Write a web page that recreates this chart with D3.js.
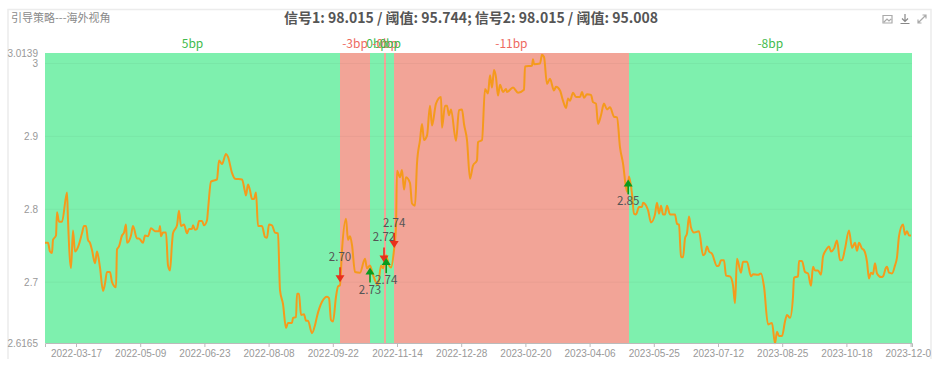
<!DOCTYPE html>
<html>
<head>
<meta charset="utf-8">
<script src="https://cdn.jsdelivr.net/npm/d3@7"></script>
<style>
html,body{margin:0;padding:0;background:#fff;overflow:hidden;}
svg{display:block;font-family:"Noto Sans CJK SC","Noto Sans",sans-serif;}
</style>
</head>
<body>
<div id="chart"></div>
<script>
var titleText = "信号1: 98.015 / 阈值: 95.744; 信号2: 98.015 / 阈值: 95.008";
var subTitle = "引导策略---海外视角";

// x is the trading day position along the category axis
var tickIdx = [15.5,47.6,79.7,111.8,143.9,176,208.1,240.2,272.3,304.4,336.5,368.6,400.7,432.8];
var tickDates = ["2022-03-17","2022-05-09","2022-06-23","2022-08-08","2022-09-22","2022-11-14","2022-12-28","2023-02-20","2023-04-06","2023-05-25","2023-07-12","2023-08-25","2023-10-18","2023-12-01"];
var yTicks = [2.6165,2.7,2.8,2.9,3,3.0139];

var lineIdx = [0,1.5,2.5,3.5,4,5.5,6,7,8.5,11,11.5,13,14,15,16.5,18.5,19.5,20.5,21.5,22.5,23.5,25,26,27.5,29,30,31,32.5,33.5,35.5,36,37,38.5,39.5,40.5,41,43,44,46,47,49,50,51.5,53,55,57,57.5,58,59,60.5,61.5,62.5,63.5,64,66,67,68,69.5,71,72,73.5,74,75,76,77,78.5,79.5,81,81.5,83,86,87,88.5,90.5,91.5,93.5,95,98.5,100,100.5,101.5,102.5,103.5,104.5,105.5,106.5,108.5,110,111,112,113.5,115,116.5,117.5,119,120.5,121.5,123.5,124,125.5,126,127,128,129.5,130.5,131.5,133.5,135,136,138.5,141,142,143,144,145.5,146.5,147.5,148.5,150.5,151.5,152.5,153.5,155,157.5,160,161,162.5,164,166.5,168,169,170.5,172,173,174.5,175.5,176,177.5,178.5,179.5,180.5,182.5,183.5,185,186,187.5,188.5,189.5,191,192.5,193.5,195.5,198,198.5,200,201,202,203,205.5,207,208.5,209.5,211,212.5,214,216,216.5,218.5,220,221.5,222.5,223.5,224.5,225.5,226.5,227.5,229,230.5,231,234,236.5,239.5,240,243.5,244,244.5,247.5,248.5,249.5,251,252.5,254.5,255.5,257.5,259,260.5,261.5,262.5,264,265.5,267.5,268.5,269.5,271,273,274,275.5,276.5,278,279.5,281,282.5,284.5,286,287.5,289,291,292,293.5,294.5,295.5,297,298.5,299,301.5,303,305,306,307,308,309,310,311,312.5,315,316,317,318,319,320,321,322,323,324.5,327,329,330,331,332,333.5,336,337,338,339.5,340.5,342.5,344,345,346,348,349,351,353,354,356.5,358,359.5,361.5,363.5,365,366,367,368.5,370,371,372.5,374,374.5,376.5,377,378.5,380,381.5,383,384,385,386.5,388,389,390.5,392,393,394.5,396,397.5,398.5,400,402,403.5,405,406,407,408.5,409.5,411,412,413,414,415,416,418,419,420.5,421,422,423.5,425,426,427,429,430,431,432,433];
var lineVal = [2.754,2.754,2.742,2.740,2.758,2.764,2.796,2.783,2.783,2.823,2.785,2.719,2.771,2.742,2.748,2.767,2.777,2.777,2.758,2.754,2.744,2.726,2.742,2.720,2.688,2.698,2.714,2.714,2.700,2.693,2.745,2.749,2.764,2.768,2.779,2.754,2.764,2.777,2.760,2.760,2.754,2.764,2.763,2.774,2.770,2.770,2.777,2.763,2.768,2.768,2.723,2.716,2.753,2.767,2.778,2.798,2.777,2.779,2.767,2.773,2.773,2.778,2.772,2.773,2.784,2.784,2.778,2.785,2.799,2.838,2.841,2.867,2.862,2.876,2.872,2.850,2.842,2.841,2.824,2.819,2.834,2.826,2.814,2.814,2.823,2.777,2.777,2.762,2.761,2.779,2.778,2.768,2.767,2.689,2.670,2.637,2.644,2.644,2.651,2.652,2.684,2.684,2.655,2.656,2.647,2.647,2.630,2.641,2.653,2.673,2.680,2.678,2.648,2.646,2.680,2.694,2.696,2.744,2.787,2.758,2.763,2.751,2.714,2.713,2.732,2.719,2.723,2.710,2.696,2.723,2.719,2.737,2.723,2.720,2.744,2.776,2.853,2.844,2.854,2.827,2.844,2.836,2.808,2.805,2.863,2.895,2.917,2.895,2.901,2.942,2.915,2.945,2.954,2.912,2.942,2.942,2.929,2.937,2.894,2.936,2.937,2.917,2.895,2.842,2.860,2.867,2.892,2.895,2.965,2.959,2.984,2.967,2.991,2.981,2.956,2.971,2.961,2.965,2.961,2.967,2.960,2.964,2.996,2.997,3.006,2.999,3.000,3.012,3.009,2.972,2.979,2.963,2.968,2.963,2.949,2.939,2.952,2.949,2.960,2.954,2.954,2.961,2.953,2.958,2.957,2.947,2.945,2.917,2.929,2.945,2.937,2.940,2.927,2.926,2.885,2.863,2.824,2.845,2.821,2.794,2.793,2.803,2.803,2.809,2.799,2.782,2.793,2.809,2.794,2.805,2.793,2.793,2.805,2.793,2.793,2.780,2.779,2.735,2.734,2.760,2.767,2.790,2.775,2.768,2.770,2.737,2.739,2.749,2.742,2.739,2.722,2.723,2.730,2.730,2.709,2.708,2.696,2.671,2.732,2.713,2.728,2.728,2.708,2.711,2.710,2.712,2.694,2.642,2.644,2.616,2.632,2.626,2.626,2.646,2.655,2.651,2.680,2.706,2.708,2.729,2.729,2.714,2.712,2.695,2.721,2.716,2.716,2.710,2.735,2.744,2.749,2.742,2.746,2.757,2.730,2.730,2.746,2.771,2.747,2.754,2.743,2.754,2.746,2.744,2.728,2.705,2.713,2.711,2.726,2.712,2.707,2.708,2.720,2.721,2.713,2.712,2.723,2.734,2.763,2.779,2.765,2.770,2.764,2.764];

// holding periods: edges on the x index, one label per band
var bandEdges = [0,147.5,162.5,169.5,170.6,174.6,291.8,433.5];
var bandLabels = ["5bp","-3bp","0bp","-0bp","0bp","-11bp","-8bp"];
var bandKinds = ["win","loss","win","loss","win","loss","win"];

// signals: arrow tip on the chart, label as printed, direction
var signalIdx = [147.5,162.5,169.5,170.6,174.6,291.6];
var signalVal = [2.700,2.720,2.727,2.733,2.747,2.841];
var signalText = ["2.70","2.73","2.72","2.74","2.74","2.85"];
var signalDir = ["down","up","down","up","down","up"];

var W = 938, H = 374;
var plotL = 45, plotR = 912, plotT = 53.4, plotB = 343;
var fills = {win:"#7ef0ae",loss:"#f2a497"};
var labelFills = {win:"#3fbb4e",loss:"#ee6a5f"};
var arrowFills = {up:"#0b9a1e",down:"#e8301c"};

var svg = d3.select("#chart").append("svg").attr("width",W).attr("height",H);
var x = d3.scaleLinear().domain([0,433.5]).range([plotL,plotR]);
var y = d3.scaleLinear().domain([2.6165,3.0139]).range([plotB,plotT]);

svg.append("clipPath").attr("id","card").append("rect")
	.attr("x",8).attr("y",9).attr("width",923).attr("height",350);

// card border, open at the bottom
svg.append("path")
	.attr("d","M8,359V9.5H931V359")
	.attr("fill","none").attr("stroke","#ececec").attr("stroke-width",1.5);

svg.append("text").attr("x",11).attr("y",22)
	.attr("font-size",11).attr("fill","#8a8a8a").text(subTitle);
svg.append("text").attr("x",471).attr("y",23).attr("text-anchor","middle")
	.attr("font-size",14).attr("font-weight","bold").attr("fill","#555").text(titleText);

// bands
var bands = bandLabels.map(function(d,i){
	return {label:d,kind:bandKinds[i],from:bandEdges[i],to:bandEdges[i+1]};
});
svg.selectAll("rect.band").data(bands).enter().append("rect")
	.attr("class","band")
	.attr("x",function(d){return x(d.from);})
	.attr("y",plotT)
	.attr("width",function(d){return x(d.to)-x(d.from);})
	.attr("height",plotB-plotT)
	.attr("shape-rendering","crispEdges")
	.attr("fill",function(d){return fills[d.kind];});
svg.selectAll("text.bandLabel").data(bands).enter().append("text")
	.attr("class","bandLabel")
	.attr("x",function(d){return x((d.from+d.to)/2);})
	.attr("y",48)
	.attr("text-anchor","middle")
	.attr("font-size",12)
	.attr("fill",function(d){return labelFills[d.kind];})
	.text(function(d){return d.label;});

// grid
svg.selectAll("line.grid").data(yTicks.slice(1,5)).enter().append("line")
	.attr("class","grid")
	.attr("x1",plotL).attr("x2",plotR)
	.attr("y1",function(d){return y(d);}).attr("y2",function(d){return y(d);})
	.attr("stroke","#000").attr("stroke-opacity",0.04);

// price line
var line = d3.line()
	.x(function(d){return x(d[0]);})
	.y(function(d){return y(d[1]);})
	.curve(d3.curveMonotoneX);
svg.append("path")
	.datum(lineIdx.map(function(d,i){return [d,lineVal[i]];}))
	.attr("d",line)
	.attr("fill","none")
	.attr("stroke","#f59a1c")
	.attr("stroke-width",2)
	.attr("stroke-linejoin","round");

// axes
var yAxis = d3.axisLeft(y).tickValues(yTicks).tickSize(0).tickPadding(7).tickFormat(function(d){return String(d);});
var gy = svg.append("g").attr("transform","translate("+plotL+",0)").call(yAxis);
gy.select(".domain").remove();
gy.selectAll("text").attr("font-size",10).attr("font-family","inherit").attr("fill","#999");

var xAxis = d3.axisBottom(x).tickValues(tickIdx).tickSize(4).tickPadding(3)
	.tickFormat(function(d,i){return tickDates[i];});
var gx = svg.append("g").attr("clip-path","url(#card)")
	.append("g").attr("transform","translate(0,"+plotB+")").call(xAxis);
gx.select(".domain").attr("stroke","#bbb");
gx.selectAll("line").attr("stroke","#bbb");
gx.selectAll("text").attr("font-size",10).attr("font-family","inherit").attr("fill","#999");

// signal arrows
var signals = signalIdx.map(function(d,i){
	return {i:d,v:signalVal[i],text:signalText[i],dir:signalDir[i]};
});
var sg = svg.selectAll("g.signal").data(signals).enter().append("g")
	.attr("class","signal")
	.attr("transform",function(d){return "translate("+x(d.i)+","+y(d.v)+")";});
sg.append("line")
	.attr("y1",function(d){return d.dir=="up"?5:-5;})
	.attr("y2",function(d){return d.dir=="up"?15:-15;})
	.attr("stroke",function(d){return arrowFills[d.dir];})
	.attr("stroke-width",1.6);
sg.append("path")
	.attr("d",function(d){return d.dir=="up"?"M0,0L4.5,7H-4.5Z":"M0,0L4.5,-7H-4.5Z";})
	.attr("fill",function(d){return arrowFills[d.dir];});
sg.append("text")
	.attr("text-anchor","middle")
	.attr("y",function(d){return d.dir=="up"?26:-21;})
	.attr("font-size",11.5)
	.attr("fill","#555")
	.text(function(d){return d.text;});

// toolbox icons
var icons = svg.append("g").attr("fill","none").attr("stroke","#aaa").attr("stroke-width",1.2);
icons.append("path").attr("d","M883,15.5h9v7.5h-9ZM884,22l3,-3l2,2l2,-2");
icons.append("path").attr("d","M905,14v7M902,18.5l3,3l3,-3M900.5,23.5h9").attr("stroke","#888");
icons.append("path").attr("d","M918,23l8,-8M922.5,15h3.5v3.5M918,19.5V23h3.5");
</script>
</body>
</html>
